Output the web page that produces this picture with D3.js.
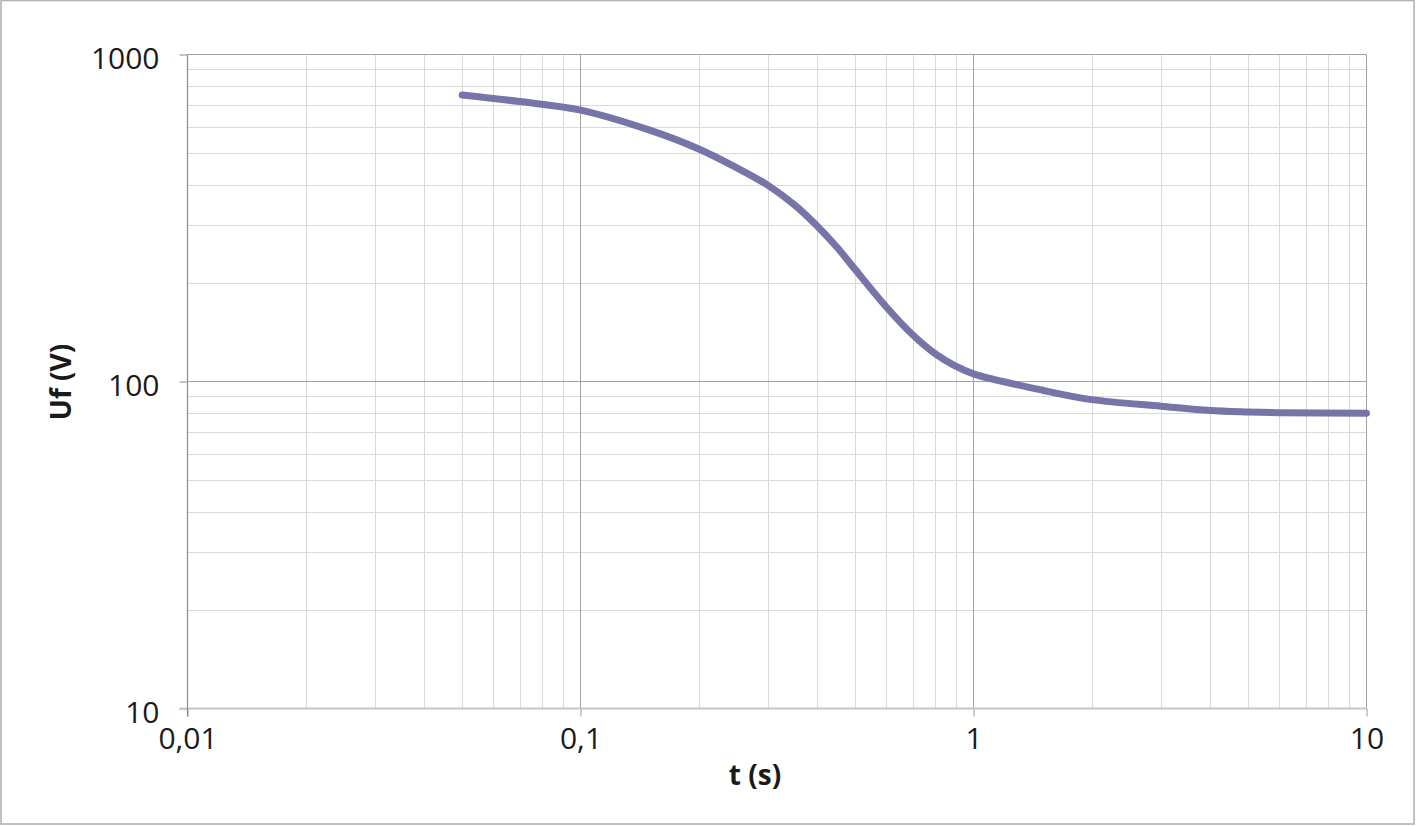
<!DOCTYPE html>
<html>
<head>
<meta charset="utf-8">
<script src="https://cdn.jsdelivr.net/npm/d3@7/dist/d3.min.js"></script>
<style>
  html, body { margin: 0; padding: 0; background: #fff; }
  svg { display: block; }
</style>
</head>
<body>
<svg id="chart" width="1416" height="826"></svg>
<script>
// ---- data ----
const timeS = [0.05, 0.07, 0.1, 0.15, 0.2, 0.25, 0.3, 0.35, 0.4, 0.45, 0.5, 0.6, 0.7, 0.8, 0.9, 1, 1.5, 2, 3, 4, 5, 6, 10];
const voltageV = [752, 718, 676, 587, 514, 450, 398, 347, 299, 257, 220, 169, 139, 121.5, 111.5, 105.5, 94, 88, 84, 81.5, 80.7, 80.3, 80];
const xTickValues = [0.01, 0.1, 1, 10];
const xTickLabels = ["0,01", "0,1", "1", "10"];
const yTickValues = [10, 100, 1000];
const yTickLabels = ["10", "100", "1000"];
const xTitle = "t (s)";
const yTitle = "Uf (V)";

(function () {
// ---- layout ----
const pLeft = 187.5, pRight = 1366.5, pTop = 54.5, pBottom = 708.5;
const svg = d3.select("#chart");

svg.append("rect").attr("x", 1).attr("y", 0.5).attr("width", 1413).attr("height", 823.5)
  .attr("fill", "#fff").attr("stroke", "#b2b2b2").attr("stroke-width", 1.6);

const x = d3.scaleLog().domain([0.01, 10]).range([pLeft, pRight]);
const y = d3.scaleLog().domain([10, 1000]).range([pBottom, pTop]);

// minor grid values
const minorX = [], minorY = [];
[0.01, 0.1, 1].forEach(d => { for (let k = 2; k <= 9; k++) minorX.push(d * k); });
[10, 100].forEach(d => { for (let k = 2; k <= 9; k++) minorY.push(d * k); });

const grid = svg.append("g");
grid.selectAll(".mx").data(minorX).enter().append("line")
  .attr("x1", d => Math.round(x(d)) + 0.5).attr("x2", d => Math.round(x(d)) + 0.5)
  .attr("y1", pTop).attr("y2", pBottom)
  .attr("stroke", "#d9d9d9").attr("stroke-width", 1);
grid.selectAll(".my").data(minorY).enter().append("line")
  .attr("y1", d => Math.round(y(d)) + 0.5).attr("y2", d => Math.round(y(d)) + 0.5)
  .attr("x1", pLeft).attr("x2", pRight)
  .attr("stroke", "#d9d9d9").attr("stroke-width", 1);

// major grid
grid.selectAll(".Mx").data([0.1, 1, 10]).enter().append("line")
  .attr("x1", d => x(d)).attr("x2", d => x(d))
  .attr("y1", pTop).attr("y2", pBottom)
  .attr("stroke", "#a3a3a3").attr("stroke-width", 1);
grid.selectAll(".My").data([100, 1000]).enter().append("line")
  .attr("y1", d => y(d)).attr("y2", d => y(d))
  .attr("x1", pLeft).attr("x2", pRight)
  .attr("stroke", "#a3a3a3").attr("stroke-width", 1);

// axes
const yAxis = d3.axisLeft(y).tickValues(yTickValues)
  .tickFormat((d, i) => yTickLabels[i]).tickSize(8).tickPadding(20);
const gy = svg.append("g").attr("transform", `translate(${pLeft},0)`).call(yAxis);
gy.select(".domain").remove();
gy.selectAll(".tick line").attr("stroke", "#8c8c8c");
gy.selectAll(".tick text").attr("font-family", "'Open Sans', sans-serif")
  .attr("font-size", 30).attr("fill", "#1a1a1a").attr("dy", "0.45em");

const xAxis = d3.axisBottom(x).tickValues(xTickValues)
  .tickFormat((d, i) => xTickLabels[i]).tickSize(8).tickPadding(12);
const gx = svg.append("g").attr("transform", `translate(0,${pBottom})`).call(xAxis);
gx.select(".domain").remove();
gx.selectAll(".tick line").attr("stroke", "#9a9a9a");
gx.selectAll(".tick text").attr("font-family", "'Open Sans', sans-serif")
  .attr("font-size", 30).attr("fill", "#1a1a1a").attr("dy", "0.68em");

// axis lines
svg.append("line").attr("x1", pLeft - 8).attr("x2", pRight).attr("y1", pBottom).attr("y2", pBottom)
  .attr("stroke", "#c6c6c6").attr("stroke-width", 2);
svg.append("line").attr("x1", pLeft).attr("x2", pLeft).attr("y1", pTop).attr("y2", pBottom + 8)
  .attr("stroke", "#8c8c8c").attr("stroke-width", 1.2);

// curve
const line = d3.line().x((d, i) => x(timeS[i])).y(d => y(d)).curve(d3.curveCatmullRom.alpha(0.5));
svg.append("path").datum(voltageV).attr("d", line)
  .attr("fill", "none").attr("stroke", "#7774a8").attr("stroke-width", 7)
  .attr("stroke-linecap", "round").attr("stroke-linejoin", "round");

// titles
svg.append("text").attr("x", 755).attr("y", 785).attr("text-anchor", "middle")
  .attr("font-family", "'Open Sans', sans-serif").attr("font-weight", "bold")
  .attr("font-size", 28).attr("fill", "#1a1a1a").text(xTitle);
svg.append("text").attr("transform", "translate(71,382) rotate(-90)").attr("text-anchor", "middle")
  .attr("font-family", "'Open Sans', sans-serif").attr("font-weight", "bold")
  .attr("font-size", 28).attr("fill", "#1a1a1a").text(yTitle);
})();
</script>
</body>
</html>
